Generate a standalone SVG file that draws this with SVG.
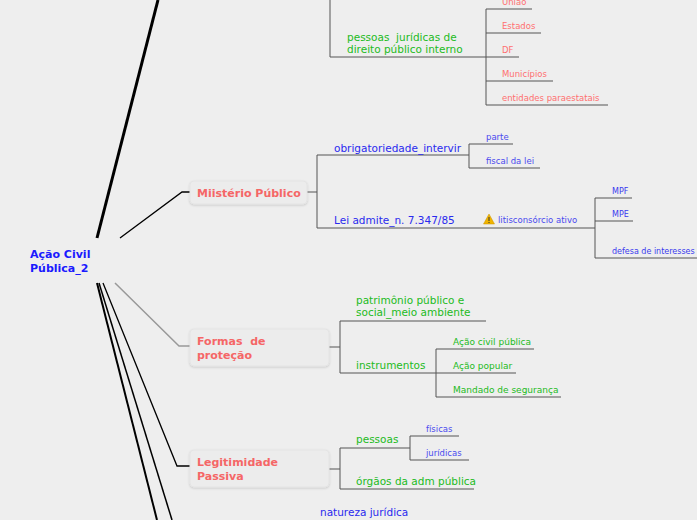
<svg xmlns="http://www.w3.org/2000/svg" width="697" height="520" viewBox="0 0 697 520">
<defs>
<filter id="sh" x="-10%" y="-20%" width="120%" height="150%"><feDropShadow dx="0" dy="1" stdDeviation="1" flood-color="#000" flood-opacity="0.15"/></filter>
</defs>
<style>
text{font-family:"DejaVu Sans",sans-serif}
.c{fill:none;stroke:#555;stroke-width:1}
.main{font-size:11px;font-weight:bold;fill:#1a1aff}
.box{fill:#ececec;stroke:#e4e4e4;filter:url(#sh)}
.bt{font-size:11px;font-weight:bold;fill:#f56666}
.g{font-size:10.5px;fill:#22bb22}
.gs{font-size:9px;fill:#22bb22}
.b{font-size:10.5px;fill:#2a2aee}
.bs{font-size:8.5px;fill:#4a4aee}
.bx{font-size:8px;fill:#3a3aee}
.r{font-size:8.5px;fill:#ff7070}
</style>
<rect width="697" height="520" fill="#eeeeee"/>
<g id="connectors">
<path d="M97 238 L158 0" stroke="#000" stroke-width="3" fill="none"/>
<path d="M120 238 L182 192 L190 192" stroke="#000" stroke-width="1.3" fill="none"/>
<path d="M115 283 L179 346 L190 346" stroke="#999" stroke-width="1.5" fill="none"/>
<path d="M103 283 L177 466 L190 466" stroke="#000" stroke-width="1.3" fill="none"/>
<path d="M97 283 L157 520" stroke="#000" stroke-width="2" fill="none"/>
<path d="M99 283 L172 520" stroke="#000" stroke-width="1.5" fill="none"/>
<path class="c" d="M330 0 V57 H476 M476 57 H486 M486 9 V105 M486 9 H532 M486 33 H541 M486 57 H519 M486 81 H553 M486 105 H608"/>
<path class="c" d="M307 192 H317 M317 155 V228 M317 155 H456 M317 228 H586 M456 155 H469 M469 144 V168 M469 144 H513 M469 168 H540 M586 228 H595 M595 198 V258 M595 198 H632 M595 221 H633 M595 258 H697"/>
<path class="c" d="M329 347 H340 M340 321 V373 M340 321 H486 M340 373 H436 M436 349 V397 M436 349 H534 M436 373 H516 M436 397 H561"/>
<path class="c" d="M329 469 H340 M340 448 V489 M340 448 H410 M340 489 H474 M410 436 V460 M410 436 H459 M410 460 H469"/>
</g>
<g id="root"><text class="main" x="30" y="258">Ação Civil</text><text class="main" x="30" y="272">Pública_2</text></g>
<g id="pj"><text class="g" x="347" y="41">pessoas&#160; jurídicas de</text><text class="g" x="347" y="53">direito público interno</text></g>
<g id="uniao"><text class="r" x="502" y="5">União</text></g>
<g id="estados"><text class="r" x="502" y="29">Estados</text></g>
<g id="df"><text class="r" x="502" y="53">DF</text></g>
<g id="mun"><text class="r" x="502" y="77">Municípios</text></g>
<g id="ent"><text class="r" x="502" y="101">entidades paraestatais</text></g>
<g id="mp"><rect class="box" x="190" y="181" width="117" height="23" rx="4"/><text class="bt" x="197" y="197">Miistério Público</text></g>
<g id="obr"><text class="b" x="334" y="152">obrigatoriedade_intervir</text></g>
<g id="parte"><text class="bs" x="486" y="140">parte</text></g>
<g id="fiscal"><text class="bs" x="486" y="164">fiscal da lei</text></g>
<g id="lei"><text class="b" x="334" y="224">Lei admite_n. 7.347/85</text></g>
<g id="lit"><path d="M489 214 L494.5 224 L483.5 224 Z" fill="#f0b400" stroke="#c89000" stroke-width="0.5"/><rect x="488.5" y="217" width="1" height="4" fill="#333"/><rect x="488.5" y="222" width="1" height="1" fill="#333"/><text class="bs" x="498" y="223">litisconsórcio ativo</text></g>
<g id="mpf"><text class="bx" x="612" y="194">MPF</text></g>
<g id="mpe"><text class="bx" x="612" y="217">MPE</text></g>
<g id="def"><text class="bx" x="612" y="254">defesa de interesses</text></g>
<g id="formas"><rect class="box" x="190" y="329" width="139" height="37" rx="4"/><text class="bt" x="197" y="345">Formas&#160; de</text><text class="bt" x="197" y="359">proteção</text></g>
<g id="pat"><text class="g" x="356" y="304">patrimônio público e</text><text class="g" x="356" y="316">social_meio ambiente</text></g>
<g id="inst"><text class="g" x="356" y="369">instrumentos</text></g>
<g id="acp"><text class="gs" x="453" y="345">Ação civil pública</text></g>
<g id="ap"><text class="gs" x="453" y="369">Ação popular</text></g>
<g id="ms"><text class="gs" x="453" y="393">Mandado de segurança</text></g>
<g id="legit"><rect class="box" x="190" y="450" width="139" height="37" rx="4"/><text class="bt" x="197" y="466">Legitimidade</text><text class="bt" x="197" y="480">Passiva</text></g>
<g id="pess"><text class="g" x="356" y="443">pessoas</text></g>
<g id="fis"><text class="bs" x="426" y="432">físicas</text></g>
<g id="jur"><text class="bs" x="426" y="456">jurídicas</text></g>
<g id="org"><text class="g" x="356" y="485">órgãos da adm pública</text></g>
<g id="nat"><text class="b" x="320" y="516">natureza jurídica</text></g>
</svg>
